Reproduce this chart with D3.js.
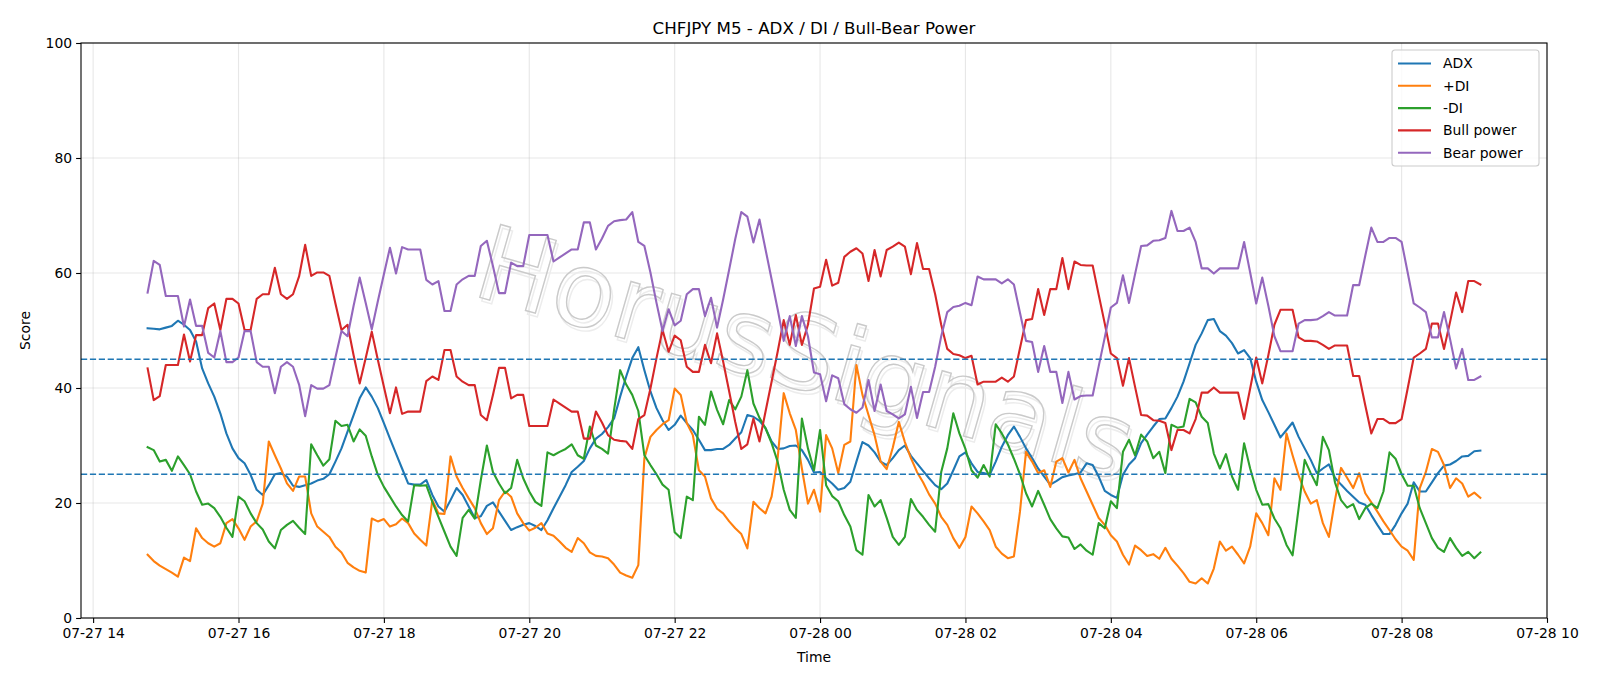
<!DOCTYPE html>
<html>
<head>
<meta charset="utf-8">
<script src="https://cdn.jsdelivr.net/npm/d3@7"></script>
<style>
    body { margin: 0; background: #fff; }
    svg text { font-family: "DejaVu Sans", sans-serif; }
</style>
</head>
<body>
<div id="chart"></div>
<script>
var startTime = "2025-07-27T14:45:00Z",
    stepMinutes = 5;

var adx = [50.4, 50.3, 50.2, 50.5, 50.8, 51.7, 51.0, 50.1, 48.1, 43.4, 40.8, 38.5, 35.6, 32.1, 29.5, 27.8, 26.9, 24.9, 22.3, 21.4,
    23.1, 25.0, 25.2, 24.6, 23.0, 22.8, 23.1, 23.4, 23.9, 24.2, 25.0, 27.2, 29.5, 32.4, 35.3, 38.2, 40.1, 38.5, 36.5, 33.9,
    31.2, 28.6, 26.0, 23.4, 23.2, 23.2, 24.0, 21.4, 19.4, 18.5, 20.5, 22.6, 21.4, 19.4, 17.4, 17.7, 19.5, 20.1, 18.5, 16.9,
    15.3, 15.8, 16.2, 16.5, 16.0, 15.3, 17.0, 19.1, 21.1, 23.1, 25.4, 26.3, 27.3, 29.5, 31.2, 32.0, 33.2, 34.7, 38.5, 42.0,
    45.2, 47.1, 43.1, 39.4, 36.5, 34.4, 32.7, 33.6, 35.2, 33.9, 32.7, 31.0, 29.2, 29.2, 29.4, 29.4, 30.1, 31.2, 32.3, 35.3,
    35.0, 34.3, 33.0, 30.7, 29.4, 29.5, 29.9, 30.0, 29.2, 27.5, 25.3, 25.4, 24.3, 23.4, 22.3, 22.6, 23.7, 27.2, 30.6, 30.0,
    28.8, 27.2, 26.6, 27.8, 29.2, 30.0, 28.2, 26.9, 25.6, 24.3, 23.1, 22.4, 23.4, 25.7, 28.1, 28.8, 26.9, 25.4, 25.2, 24.9,
    27.2, 29.8, 31.8, 33.3, 31.5, 29.5, 27.8, 26.0, 24.6, 23.2, 23.8, 24.5, 24.8, 25.0, 25.3, 26.9, 26.6, 24.6, 22.1, 21.4,
    20.9, 24.9, 26.7, 27.8, 30.4, 31.9, 33.3, 34.6, 34.7, 36.5, 38.5, 41.1, 44.3, 47.5, 49.5, 51.8, 52.0, 49.9, 49.1, 47.8,
    46.0, 46.6, 45.2, 41.1, 37.9, 35.8, 33.6, 31.4, 32.7, 34.0, 31.5, 29.5, 27.5, 25.2, 26.0, 26.7, 24.4, 23.2, 22.1, 21.1,
    20.1, 19.7, 17.9, 16.2, 14.6, 14.6, 16.2, 18.2, 19.9, 23.6, 22.0, 22.0, 23.6, 25.2, 26.5, 26.7, 27.3, 28.1, 28.2, 29.0,
    29.1];

var plusDi = [11.0, 9.9, 9.1, 8.5, 7.9, 7.2, 10.5, 9.9, 15.6, 13.9, 13.0, 12.4, 13.0, 16.5, 17.2, 15.6, 13.6, 15.9, 16.8, 19.9,
    30.7, 28.3, 26.0, 23.4, 22.1, 24.6, 24.6, 18.2, 15.9, 15.0, 14.1, 12.4, 11.4, 9.6, 8.8, 8.2, 7.9, 17.3, 16.8, 17.2,
    15.9, 16.3, 17.3, 16.5, 14.7, 13.6, 12.6, 20.5, 18.2, 18.1, 28.1, 24.6, 22.6, 20.8, 19.1, 16.5, 14.6, 15.6, 20.5, 22.0,
    21.1, 18.2, 16.5, 15.2, 15.7, 16.5, 14.7, 14.3, 13.3, 12.2, 11.5, 13.9, 13.0, 11.4, 10.8, 10.7, 10.4, 9.3, 7.9, 7.4,
    7.0, 9.2, 27.8, 31.5, 32.7, 33.7, 34.4, 39.9, 38.8, 33.9, 31.8, 25.7, 24.6, 20.8, 19.0, 18.2, 16.8, 15.6, 14.6, 12.1,
    20.2, 19.1, 18.2, 21.1, 27.8, 39.1, 35.6, 32.7, 26.0, 19.9, 22.3, 18.5, 31.8, 29.5, 25.2, 30.1, 30.7, 44.0, 38.8, 35.3,
    31.8, 27.2, 25.9, 29.6, 34.1, 30.6, 27.8, 25.4, 23.6, 21.5, 19.9, 17.6, 16.2, 13.9, 12.2, 14.1, 19.4, 18.2, 16.8, 15.3,
    12.4, 11.2, 10.4, 10.7, 18.5, 28.9, 27.2, 25.2, 25.7, 22.8, 27.2, 27.8, 25.3, 27.5, 24.3, 22.0, 19.7, 17.4, 16.2, 14.4,
    13.3, 11.0, 9.3, 12.6, 11.8, 10.8, 11.1, 10.3, 12.2, 10.3, 9.1, 7.8, 6.3, 6.0, 6.9, 6.0, 8.6, 13.3, 11.7, 12.4,
    11.0, 9.5, 12.4, 18.2, 16.5, 14.4, 24.3, 22.3, 32.1, 28.3, 24.8, 22.0, 19.9, 20.5, 16.5, 14.1, 20.5, 26.1, 24.4, 22.6,
    25.2, 21.7, 20.1, 18.5, 16.8, 15.3, 13.7, 12.4, 11.7, 10.1, 22.6, 25.4, 29.4, 28.9, 26.6, 22.6, 24.3, 23.4, 21.1, 21.8,
    20.9];

var minusDi = [29.7, 29.2, 27.2, 27.5, 25.6, 28.1, 26.6, 25.0, 22.0, 19.7, 19.9, 19.1, 17.6, 15.7, 14.1, 21.1, 20.3, 18.2, 16.5, 15.4,
    13.3, 12.1, 15.3, 16.2, 16.9, 15.7, 14.6, 30.2, 28.3, 26.5, 27.6, 34.3, 33.4, 33.6, 30.7, 32.8, 31.7, 28.1, 24.9, 22.8,
    21.1, 19.4, 17.9, 16.8, 23.1, 23.0, 23.1, 20.2, 17.6, 15.0, 12.4, 10.8, 17.4, 18.8, 17.3, 24.0, 30.0, 25.4, 23.4, 21.7,
    22.6, 27.5, 24.3, 22.0, 20.2, 19.5, 28.8, 28.3, 28.9, 29.4, 30.2, 28.3, 27.7, 33.3, 30.0, 29.4, 28.6, 36.2, 43.1, 40.6,
    38.8, 36.0, 28.3, 26.6, 25.0, 23.2, 22.3, 14.9, 13.9, 21.1, 20.5, 35.0, 33.6, 39.4, 36.2, 33.7, 37.9, 36.3, 38.5, 43.1,
    37.3, 34.8, 33.0, 30.4, 27.2, 22.3, 18.8, 17.4, 34.7, 29.5, 25.7, 32.7, 23.1, 21.2, 20.3, 17.9, 15.9, 11.8, 11.0, 21.4,
    19.4, 20.5, 17.4, 14.1, 12.7, 14.1, 20.7, 18.8, 17.6, 16.2, 15.0, 25.4, 29.5, 35.6, 32.1, 29.4, 25.7, 24.4, 26.6, 24.6,
    33.7, 32.1, 30.2, 27.7, 25.0, 21.7, 19.4, 22.1, 19.7, 17.2, 15.6, 14.2, 14.0, 12.0, 12.8, 11.7, 11.0, 16.5, 15.6, 20.3,
    19.1, 28.9, 31.0, 28.3, 31.9, 30.7, 27.8, 28.9, 25.2, 33.6, 33.1, 33.3, 38.1, 37.5, 35.0, 33.9, 28.6, 26.0, 28.5, 24.6,
    22.3, 30.4, 26.0, 22.3, 19.7, 19.8, 17.3, 15.6, 12.7, 10.9, 19.1, 27.5, 25.2, 23.1, 31.5, 29.2, 23.6, 20.5, 19.2, 19.8,
    17.2, 19.1, 19.9, 19.1, 22.0, 28.8, 27.7, 25.0, 23.0, 23.0, 19.1, 16.5, 13.9, 12.2, 11.5, 13.9, 12.2, 10.8, 11.5, 10.4,
    11.4];

var bullPower = [43.4, 37.9, 38.6, 44.0, 44.0, 44.0, 49.3, 44.6, 49.2, 49.2, 53.9, 54.7, 50.1, 55.5, 55.5, 54.7, 50.1, 50.1, 55.5, 56.3,
    56.3, 60.9, 56.3, 55.5, 56.3, 59.4, 64.9, 59.5, 60.1, 60.1, 59.5, 54.7, 50.1, 51.0, 45.7, 40.8, 45.2, 49.8, 44.9, 40.2,
    35.6, 40.1, 35.5, 35.9, 35.9, 35.9, 41.2, 42.0, 41.4, 46.6, 46.6, 42.0, 41.1, 40.5, 40.5, 35.3, 34.4, 38.8, 43.5, 43.5,
    38.2, 38.8, 38.8, 33.4, 33.4, 33.4, 33.4, 38.0, 37.3, 36.6, 35.9, 35.9, 31.2, 31.2, 35.9, 34.0, 31.8, 31.0, 30.8, 30.7,
    29.4, 34.6, 35.3, 39.9, 45.2, 50.1, 46.3, 49.1, 48.3, 43.7, 42.8, 42.8, 47.5, 44.3, 49.5, 44.6, 39.4, 34.1, 29.4, 30.2,
    34.7, 30.7, 35.9, 41.1, 46.3, 51.8, 47.5, 52.7, 47.5, 51.0, 57.3, 57.6, 62.3, 57.8, 58.3, 62.8, 63.7, 64.3, 63.4, 58.6,
    64.0, 59.4, 64.0, 64.6, 65.3, 64.6, 59.8, 65.2, 60.7, 60.7, 56.3, 51.0, 46.8, 45.9, 45.7, 45.2, 45.6, 40.6, 41.1, 41.1,
    41.1, 41.8, 41.1, 42.0, 46.9, 51.8, 52.0, 57.2, 52.7, 57.2, 57.2, 62.6, 57.2, 62.0, 61.4, 61.3, 61.3, 56.2, 51.2, 46.0,
    45.2, 40.4, 45.2, 40.2, 35.3, 35.2, 34.4, 34.3, 33.9, 29.2, 32.7, 32.7, 32.1, 34.6, 39.2, 39.2, 40.1, 39.2, 39.2, 39.2,
    39.2, 34.6, 39.9, 45.3, 40.8, 45.7, 51.0, 53.6, 53.6, 53.6, 48.8, 48.2, 48.2, 48.1, 47.5, 46.8, 47.4, 47.4, 47.4, 42.1,
    42.1, 37.0, 32.1, 34.6, 34.6, 33.9, 33.9, 34.6, 39.9, 45.3, 46.0, 46.8, 51.2, 51.2, 46.8, 51.5, 56.6, 53.2, 58.6, 58.6,
    58.0];

var bearPower = [56.6, 62.1, 61.4, 56.0, 56.0, 56.0, 50.7, 55.4, 50.8, 50.8, 46.1, 45.3, 49.9, 44.5, 44.5, 45.3, 49.9, 49.9, 44.5, 43.7,
    43.7, 39.1, 43.7, 44.5, 43.7, 40.6, 35.1, 40.5, 39.9, 39.9, 40.5, 45.3, 49.9, 49.0, 54.3, 59.2, 54.8, 50.2, 55.1, 59.8,
    64.4, 59.9, 64.5, 64.1, 64.1, 64.1, 58.8, 58.0, 58.6, 53.4, 53.4, 58.0, 58.9, 59.5, 59.5, 64.7, 65.6, 61.2, 56.5, 56.5,
    61.8, 61.2, 61.2, 66.6, 66.6, 66.6, 66.6, 62.0, 62.7, 63.4, 64.1, 64.1, 68.8, 68.8, 64.1, 66.0, 68.2, 69.0, 69.2, 69.3,
    70.6, 65.4, 64.7, 60.1, 54.8, 49.9, 53.7, 50.9, 51.7, 56.3, 57.2, 57.2, 52.5, 55.7, 50.5, 55.4, 60.6, 65.9, 70.6, 69.8,
    65.3, 69.3, 64.1, 58.9, 53.7, 48.2, 52.5, 47.3, 52.5, 49.0, 42.7, 42.4, 37.7, 42.2, 41.7, 37.2, 36.3, 35.7, 36.6, 41.4,
    36.0, 40.6, 36.0, 35.4, 34.7, 35.4, 40.2, 34.8, 39.3, 39.3, 43.7, 49.0, 53.2, 54.1, 54.3, 54.8, 54.4, 59.4, 58.9, 58.9,
    58.9, 58.2, 58.9, 58.0, 53.1, 48.2, 48.0, 42.8, 47.3, 42.8, 42.8, 37.4, 42.8, 38.0, 38.6, 38.7, 38.7, 43.8, 48.8, 54.0,
    54.8, 59.6, 54.8, 59.8, 64.7, 64.8, 65.6, 65.7, 66.1, 70.8, 67.3, 67.3, 67.9, 65.4, 60.8, 60.8, 59.9, 60.8, 60.8, 60.8,
    60.8, 65.4, 60.1, 54.7, 59.2, 54.3, 49.0, 46.4, 46.4, 46.4, 51.2, 51.8, 51.8, 51.9, 52.5, 53.2, 52.6, 52.6, 52.6, 57.9,
    57.9, 63.0, 67.9, 65.4, 65.4, 66.1, 66.1, 65.4, 60.1, 54.7, 54.0, 53.2, 48.8, 48.8, 53.2, 48.5, 43.4, 46.8, 41.4, 41.4,
    42.0];

var seriesNames = ["ADX", "+DI", "-DI", "Bull power", "Bear power"],
    seriesColors = ["#1f77b4", "#ff7f0e", "#2ca02c", "#d62728", "#9467bd"],
    thresholds = [25, 45],
    yTicks = [0, 20, 40, 60, 80, 100];

var width = 1600,
    height = 686,
    margin = { top: 43, right: 53, bottom: 68, left: 81 };

var t0 = new Date(startTime).getTime();
var times = adx.map(function (d, i) {
    return new Date(t0 + i * stepMinutes * 60000);
});

var series = [adx, plusDi, minusDi, bullPower, bearPower].map(function (values, k) {
    return { name: seriesNames[k], color: seriesColors[k], values: values };
});

// matplotlib style 5% margin on the time axis
var span = times[times.length - 1] - times[0];
var x = d3.scaleUtc()
    .domain([new Date(+times[0] - span * 0.05), new Date(+times[times.length - 1] + span * 0.05)])
    .range([margin.left, width - margin.right]);
var y = d3.scaleLinear()
    .domain([0, 100])
    .range([height - margin.bottom, margin.top]);

var svg = d3.select("#chart").append("svg")
    .attr("width", width)
    .attr("height", height);

var xTicks = x.ticks(d3.utcHour.every(2));

// grid
svg.append("g")
    .selectAll("line")
    .data(xTicks)
    .enter().append("line")
    .attr("x1", function (d) { return x(d); })
    .attr("x2", function (d) { return x(d); })
    .attr("y1", margin.top)
    .attr("y2", height - margin.bottom)
    .attr("stroke", "#b0b0b0")
    .attr("stroke-opacity", 0.3)
    .attr("stroke-width", 1.1);
svg.append("g")
    .selectAll("line")
    .data(yTicks)
    .enter().append("line")
    .attr("x1", margin.left)
    .attr("x2", width - margin.right)
    .attr("y1", function (d) { return y(d); })
    .attr("y2", function (d) { return y(d); })
    .attr("stroke", "#b0b0b0")
    .attr("stroke-opacity", 0.3)
    .attr("stroke-width", 1.1);

// watermark
var wm = svg.append("g")
    .attr("transform", "translate(796,388) rotate(16)");
wm.append("text")
    .attr("x", 3).attr("y", 3)
    .attr("text-anchor", "middle")
    .attr("font-size", 104)
    .attr("fill", "none")
    .attr("stroke", "#ececec")
    .attr("stroke-width", 1.4)
    .text("HorusSignals");
wm.append("text")
    .attr("text-anchor", "middle")
    .attr("font-size", 104)
    .attr("fill", "none")
    .attr("stroke", "#cacaca")
    .attr("stroke-width", 1.4)
    .text("HorusSignals");

// lines
var line = d3.line()
    .x(function (d, i) { return x(times[i]); })
    .y(function (d) { return y(d); });

svg.append("g")
    .selectAll("path")
    .data(series)
    .enter().append("path")
    .attr("d", function (s) { return line(s.values); })
    .attr("fill", "none")
    .attr("stroke", function (s) { return s.color; })
    .attr("stroke-width", 2.1)
    .attr("stroke-linejoin", "round")
    .attr("stroke-linecap", "square");

svg.append("g")
    .selectAll("line")
    .data(thresholds)
    .enter().append("line")
    .attr("x1", margin.left)
    .attr("x2", width - margin.right)
    .attr("y1", function (d) { return y(d); })
    .attr("y2", function (d) { return y(d); })
    .attr("stroke", "#1f77b4")
    .attr("stroke-width", 1.6)
    .attr("stroke-dasharray", "6.2,2.7");

// axes
var xAxis = svg.append("g")
    .attr("transform", "translate(0," + (height - margin.bottom) + ")")
    .call(d3.axisBottom(x).tickValues(xTicks).tickFormat(d3.utcFormat("%m-%d %H")).tickSize(4.9).tickPadding(5.5));
var yAxis = svg.append("g")
    .attr("transform", "translate(" + margin.left + ",0)")
    .call(d3.axisLeft(y).tickValues(yTicks).tickSize(4.9).tickPadding(4));

[xAxis, yAxis].forEach(function (g) {
    g.select(".domain").remove();
    g.selectAll(".tick line").attr("stroke", "#000").attr("stroke-width", 1.1);
    g.selectAll(".tick text")
        .attr("font-family", "DejaVu Sans")
        .attr("font-size", 13.9)
        .attr("fill", "#000");
});

svg.append("rect")
    .attr("x", margin.left)
    .attr("y", margin.top)
    .attr("width", width - margin.right - margin.left)
    .attr("height", height - margin.bottom - margin.top)
    .attr("fill", "none")
    .attr("stroke", "#000")
    .attr("stroke-width", 1.1);

// labels
svg.append("text")
    .attr("x", (margin.left + width - margin.right) / 2)
    .attr("y", 33.5)
    .attr("text-anchor", "middle")
    .attr("font-size", 16.7)
    .text("CHFJPY M5 - ADX / DI / Bull-Bear Power");
svg.append("text")
    .attr("x", (margin.left + width - margin.right) / 2)
    .attr("y", 662)
    .attr("text-anchor", "middle")
    .attr("font-size", 13.9)
    .text("Time");
svg.append("text")
    .attr("transform", "translate(30," + ((margin.top + height - margin.bottom) / 2) + ") rotate(-90)")
    .attr("text-anchor", "middle")
    .attr("font-size", 13.9)
    .text("Score");

// legend
var legend = svg.append("g")
    .attr("transform", "translate(1392,50)");
legend.append("rect")
    .attr("width", 147)
    .attr("height", 116)
    .attr("rx", 3)
    .attr("fill", "#fff")
    .attr("fill-opacity", 0.8)
    .attr("stroke", "#cccccc")
    .attr("stroke-width", 1.1);
var item = legend.selectAll(".item")
    .data(series)
    .enter().append("g")
    .attr("transform", function (s, i) { return "translate(0," + (13.5 + i * 22.3) + ")"; });
item.append("line")
    .attr("x1", 6).attr("x2", 39)
    .attr("stroke", function (s) { return s.color; })
    .attr("stroke-width", 2.1);
item.append("text")
    .attr("x", 51)
    .attr("dy", "0.35em")
    .attr("font-size", 13.9)
    .text(function (s) { return s.name; });
</script>
</body>
</html>
